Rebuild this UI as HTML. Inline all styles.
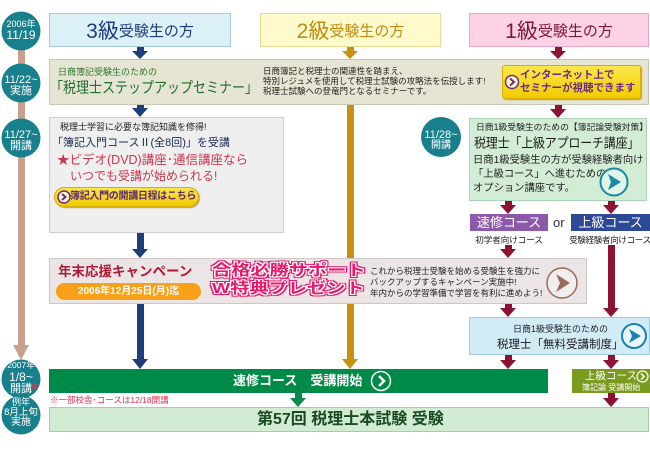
<!DOCTYPE html>
<html><head><meta charset="utf-8">
<style>
*{margin:0;padding:0;box-sizing:border-box}
body{width:650px;height:450px;background:#fff;position:relative;overflow:hidden;font-family:"Liberation Sans","Noto Sans CJK JP",sans-serif;color:#222}
.a{position:absolute;white-space:nowrap}
.bx{position:absolute;border:1px solid}
.c{position:absolute;width:42px;text-align:center;color:#fff;white-space:nowrap}
</style></head><body>

<svg class="a" style="left:0;top:0" width="650" height="450">
  <rect x="18" y="40" width="7" height="306" fill="#c9a08c"/>
  <polygon points="13,345 29,345 21,360" fill="#c9a08c"/>
  <circle cx="21" cy="31" r="19.5" fill="#18808d"/>
  <circle cx="21" cy="83" r="19.5" fill="#18808d"/>
  <circle cx="21" cy="138" r="19.5" fill="#18808d"/>
  <circle cx="21" cy="379" r="19.5" fill="#18808d"/>
  <circle cx="21" cy="415" r="19.5" fill="#18808d"/>
  <circle cx="441" cy="137" r="20" fill="#18808d"/>

  <g fill="#1c3f7c">
    <rect x="137" y="46" width="7" height="5"/><polygon points="132,51 148,51 140,59"/>
    <rect x="137" y="104" width="7" height="5"/><polygon points="132,108 148,108 140,117"/>
    <rect x="137" y="232" width="7" height="18"/><polygon points="132,249 148,249 140,258"/>
    <rect x="137" y="303" width="7" height="58"/><polygon points="132,359 148,359 140,369"/>
  </g>
  <g fill="#c8900c">
    <rect x="347" y="46" width="7" height="5"/><polygon points="342,51 358,51 350,59"/>
    <rect x="347" y="104" width="7" height="257"/><polygon points="342,359 358,359 350,369"/>
  </g>
  <g fill="#8e1234">
    <rect x="555" y="46" width="7" height="5"/><polygon points="550,51 566,51 558,59"/>
    <rect x="555" y="104" width="7" height="6"/><polygon points="550,109 566,109 558,118"/>
    <rect x="505" y="200" width="7" height="6"/><polygon points="500,205 516,205 508,214"/>
    <rect x="608" y="200" width="7" height="6"/><polygon points="603,205 619,205 611,214"/>
    <rect x="505" y="245" width="7" height="5"/><polygon points="500,249 516,249 508,258"/>
    <rect x="505" y="303" width="7" height="6"/><polygon points="500,308 516,308 508,317"/>
    <rect x="608" y="245" width="7" height="64"/><polygon points="603,308 619,308 611,317"/>
    <rect x="505" y="354" width="7" height="7"/><polygon points="500,360 516,360 508,369"/>
    <rect x="608" y="354" width="7" height="7"/><polygon points="603,360 619,360 611,369"/>
    <rect x="608" y="393" width="7" height="6"/><polygon points="603,398 619,398 611,407"/>
  </g>
  <g fill="#0a8a4c">
    <rect x="295" y="393" width="7" height="6"/><polygon points="290,398 306,398 298,407"/>
  </g>
</svg>

<div class="c" style="left:0;top:19px;font-size:9px;line-height:11px">2006年</div>
<div class="c" style="left:0;top:29px;font-size:12px;line-height:13px">11/19</div>
<div class="c" style="left:0;top:74px;font-size:11px;line-height:12px">11/22~</div>
<div class="c" style="left:0;top:85px;font-size:11px;line-height:12px">実施</div>
<div class="c" style="left:0;top:129px;font-size:11px;line-height:12px">11/27~</div>
<div class="c" style="left:0;top:140px;font-size:11px;line-height:12px">開講</div>
<div class="c" style="left:420px;top:129px;font-size:11px;line-height:12px">11/28~</div>
<div class="c" style="left:420px;top:140px;font-size:10px;line-height:12px">開講</div>
<div class="c" style="left:0;top:360px;font-size:8.5px;line-height:10px">2007年</div>
<div class="c" style="left:0;top:371px;font-size:12px;line-height:13px">1/8~</div>
<div class="c" style="left:0;top:383px;font-size:11px;line-height:12px">開講</div>
<div class="a" style="left:31px;top:382px;font-size:7px;color:#e0405a">※</div>
<div class="c" style="left:0;top:397px;font-size:9px;line-height:11px">例年</div>
<div class="c" style="left:0;top:407px;font-size:9.5px;line-height:11px">8月上旬</div>
<div class="c" style="left:0;top:417px;font-size:10px;line-height:11px">実施</div>

<div class="bx" style="left:49px;top:13px;width:182px;height:34px;background:#dcf0f8;border-color:#a8c8dc;display:flex;align-items:center;justify-content:center;color:#1e3c7c">
  <span style="font-size:21px">3級</span><span style="font-size:15px">受験生の方</span></div>
<div class="bx" style="left:260px;top:13px;width:181px;height:34px;background:#fffacc;border-color:#e8dc98;display:flex;align-items:center;justify-content:center;color:#c08a10">
  <span style="font-size:21px">2級</span><span style="font-size:15px">受験生の方</span></div>
<div class="bx" style="left:469px;top:13px;width:180px;height:34px;background:#fcd2e4;border-color:#e8a8c4;display:flex;align-items:center;justify-content:center;color:#801838">
  <span style="font-size:21px">1級</span><span style="font-size:15px">受験生の方</span></div>

<div class="bx" style="left:49px;top:59px;width:600px;height:46px;background:#e6e4d2;border-color:#cac8b4"></div>
<div class="a" style="left:58px;top:67px;font-size:9px;line-height:11px;color:#2a7a2a">日商簿記受験生のための</div>
<div class="a" style="left:50px;top:80px;font-size:13px;line-height:16px;color:#1e6e2a;transform:scaleY(1.15)">「税理士ステップアップセミナー」</div>
<div class="a" style="left:263px;top:66px;font-size:8.5px;line-height:10px;color:#222">日商簿記と税理士の関連性を踏まえ、<br>特別レジュメを使用して税理士試験の攻略法を伝授します!<br>税理士試験への登竜門となるセミナーです。</div>
<div class="a" style="left:502px;top:65px;width:139px;height:34px;border-radius:3px;background:linear-gradient(#fde64a,#f2cc00);border:1px solid #d8b000;box-shadow:1px 1px 1px #b8a050"></div>
<svg class="a" style="left:504px;top:74px" width="16" height="16"><circle cx="8" cy="8" r="6.5" fill="#fff8c0" stroke="#6a2a8a" stroke-width="1.5"/><polyline points="6,4.5 10,8 6,11.5" fill="none" stroke="#6a2a8a" stroke-width="2"/></svg>
<div class="a" style="left:520px;top:69px;font-size:10.5px;line-height:13px;font-weight:bold;color:#6a2a8a">インターネット上で<br>セミナーが視聴できます</div>

<div class="bx" style="left:49px;top:117px;width:235px;height:116px;background:#efefef;border-color:#cfcfcf"></div>
<div class="a" style="left:60px;top:122px;font-size:9px;line-height:11px;color:#222">税理士学習に必要な簿記知識を修得!</div>
<div class="a" style="left:52px;top:136px;font-size:11px;line-height:14px;color:#1a2a50">「簿記入門コースⅡ(全8回)」を受講</div>
<div class="a" style="left:57px;top:152px;font-size:12.5px;line-height:16px;color:#c8364e">★ビデオ(DVD)講座･通信講座なら</div>
<div class="a" style="left:70px;top:168px;font-size:12px;line-height:16px;color:#c8364e">いつでも受講が始められる!</div>
<div class="a" style="left:54px;top:187px;width:145px;height:20px;border-radius:10px;background:linear-gradient(#fde64a,#f0c800);border:1px solid #d8b000;box-shadow:1px 1px 1px #b8a050"></div>
<svg class="a" style="left:56px;top:189px" width="16" height="16"><circle cx="8" cy="8" r="6" fill="#fff8c0" stroke="#6a2a8a" stroke-width="1.5"/><polyline points="6,5 9.5,8 6,11" fill="none" stroke="#6a2a8a" stroke-width="2"/></svg>
<div class="a" style="left:70px;top:190px;font-size:10px;line-height:13px;font-weight:bold;color:#5a2a70;letter-spacing:-0.3px">簿記入門の開講日程はこちら</div>

<div class="bx" style="left:469px;top:118px;width:178px;height:83px;background:#d2ecd6;border-color:#a8d4b4"></div>
<div class="a" style="left:476px;top:122px;font-size:8.8px;line-height:11px;color:#222">日商1級受験生のための【簿記論受験対策】</div>
<div class="a" style="left:474px;top:135px;font-size:12px;line-height:16px;color:#1a1a1a;letter-spacing:-0.2px;transform:scaleY(1.08)">税理士「上級アプローチ講座」</div>
<div class="a" style="left:473px;top:154px;font-size:10.3px;line-height:14px;color:#222">日商1級受験生の方が受験経験者向け<br>「上級コース」へ進むための<br>オプション講座です。</div>
<svg class="a" style="left:598px;top:166px" width="32" height="32"><circle cx="16" cy="16" r="13.5" fill="#e0f4ea" stroke="#1a8aa0" stroke-width="2"/><polygon points="10,8 23,16 10,24 13,16" fill="#1a8aa0"/></svg>

<div class="a" style="left:470px;top:214px;width:78px;height:17px;background:#8c5aa8;color:#fff;font-size:13px;line-height:17px;text-align:center">速修コース</div>
<div class="a" style="left:553px;top:214px;font-size:13px;line-height:17px;color:#333">or</div>
<div class="a" style="left:571px;top:214px;width:79px;height:17px;background:#2e4898;color:#fff;font-size:13px;line-height:17px;text-align:center">上級コース</div>
<div class="a" style="left:470px;top:235px;width:78px;text-align:center;font-size:8.5px;line-height:11px;color:#222">初学者向けコース</div>
<div class="a" style="left:566px;top:235px;width:88px;text-align:center;font-size:8.5px;line-height:11px;color:#222;letter-spacing:-0.3px">受験経験者向けコース</div>

<div class="bx" style="left:49px;top:258px;width:538px;height:46px;background:#ebe5e5;border-color:#cfc6c6"></div>
<div class="a" style="left:58px;top:263px;font-size:13.5px;line-height:17px;font-weight:bold;color:#b01838">年末応援キャンペーン</div>
<div class="a" style="left:56px;top:283px;width:145px;height:17px;border-radius:9px;background:#f8a018;color:#fff;font-size:10px;line-height:17px;font-weight:bold;text-align:center">2006年12月25日(月)迄</div>
<div class="a" style="left:212px;top:262px;font-size:15px;line-height:18px;font-weight:bold;color:#e8186c;transform:scaleX(1.28);transform-origin:0 0;text-shadow:1px 0 #fff,-1px 0 #fff,0 1px #fff,0 -1px #fff,1px 1px #fff,-1px -1px #fff,1px -1px #fff,-1px 1px #fff,2px 0 #e8186c,-2px 0 #e8186c,0 2px #e8186c,0 -2px #e8186c,2px 2px #e8186c,-2px -2px #e8186c,2px -2px #e8186c,-2px 2px #e8186c">合格必勝サポート<br>W特典プレゼント</div>
<div class="a" style="left:370px;top:266px;font-size:8.5px;line-height:11px;color:#222">これから税理士受験を始める受験生を強力に<br>バックアップするキャンペーン実施中!<br>年内からの学習準備で学習を有利に進めよう!</div>
<svg class="a" style="left:545px;top:266px" width="34" height="34"><circle cx="17" cy="17" r="15" fill="#f2eeee" stroke="#9a6a5a" stroke-width="1.5"/><polygon points="11,8 25,17 11,26 15,17" fill="#9a6a5a"/></svg>

<div class="bx" style="left:469px;top:317px;width:181px;height:38px;background:#d2ecf6;border-color:#a0cce0"></div>
<div class="a" style="left:513px;top:324px;font-size:9px;line-height:11px;color:#222">日商1級受験生のための</div>
<div class="a" style="left:497px;top:338px;font-size:11.5px;line-height:15px;color:#1a1a1a">税理士「無料受講制度」</div>
<svg class="a" style="left:620px;top:322px" width="28" height="28"><circle cx="14" cy="14" r="12" fill="#e6f6fc" stroke="#1a80b0" stroke-width="2"/><polygon points="9,7 21,14 9,21 12,14" fill="#1a80b0"/></svg>

<div class="a" style="left:49px;top:369px;width:499px;height:24px;background:#008a48"></div>
<div class="a" style="left:233px;top:373px;font-size:13px;line-height:16px;font-weight:bold;color:#fff">速修コース　受講開始</div>
<svg class="a" style="left:370px;top:370px" width="22" height="22"><circle cx="11" cy="11" r="9.5" fill="none" stroke="#fff" stroke-width="1.5"/><polyline points="9,6 14,11 9,16" fill="none" stroke="#fff" stroke-width="2.5"/></svg>

<div class="a" style="left:572px;top:369px;width:78px;height:24px;background:#7a9a20"></div>
<div class="a" style="left:585px;top:370px;font-size:10.5px;line-height:13px;color:#fff">上級コース</div>
<svg class="a" style="left:636px;top:370px" width="13" height="13"><circle cx="6.5" cy="6.5" r="5.5" fill="none" stroke="#fff" stroke-width="1.2"/><polyline points="5,3.5 8,6.5 5,9.5" fill="none" stroke="#fff" stroke-width="1.5"/></svg>
<div class="a" style="left:582px;top:383px;font-size:8px;line-height:10px;color:#fff">簿記論 受講開始</div>

<div class="a" style="left:50px;top:395px;font-size:8.5px;line-height:10px;color:#e03050">※一部校舎･コースは12/18開講</div>

<div class="bx" style="left:49px;top:407px;width:600px;height:25px;background:#d2ecd4;border-color:#a8cca8"></div>
<div class="a" style="left:257px;top:410px;font-size:16px;line-height:19px;font-weight:bold;color:#1a4a20">第57回 税理士本試験 受験</div>

</body></html>
